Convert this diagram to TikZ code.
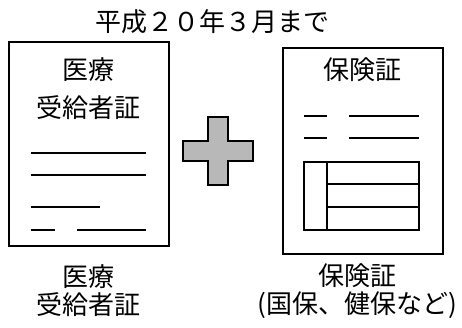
\documentclass[tikz,border=0pt]{standalone}
\usepackage{fontspec}
\setmainfont{Noto Sans CJK JP}
\usepackage{tikz}
\usetikzlibrary{positioning}

\begin{document}
\begin{tikzpicture}[x=1pt, y=-1pt, line width=1.4pt,
        card/.style={rectangle, draw, line width=1.5pt, anchor=north west},
        label/.style={inner sep=0pt, align=center, font=\fontsize{26}{28}\selectfont},
        rule/.style={line width=1.4pt},
        plusmark/.style={draw, line width=1.5pt, fill=black!28}]
        \useasboundingbox (0,0) rectangle (462,327);

        \node[label] (title) at (212,22) {平成２０年３月まで};

        \node[card, minimum width=160pt, minimum height=204pt] (iryo) at (8,41) {};
        \node[label, font=\fontsize{26}{38}\selectfont] (iryoname) at (88,89) {医療\\受給者証};
        \draw[rule] (31,153) -- (146,153);
        \draw[rule] (31,175) -- (146,175);
        \draw[rule] (31,207) -- (100,207);
        \draw[rule] (31,230) -- (55,230);
        \draw[rule] (77,230) -- (146,230);

        \draw[plusmark] (208,117) -- (228,117) -- (228,141) -- (253,141) -- (253,161) -- (228,161)
            -- (228,185) -- (208,185) -- (208,161) -- (183,161) -- (183,141) -- (208,141) -- cycle;

        \node[card, minimum width=160pt, minimum height=206pt] (hoken) at (282,47) {};
        \node[label] (hokenname) at (362,70) {保険証};
        \draw[rule] (304,116) -- (327,116);
        \draw[rule] (349,116) -- (419,116);
        \draw[rule] (304,138) -- (327,138);
        \draw[rule] (349,138) -- (419,138);
        \draw[rule] (304,162) rectangle (419,230);
        \draw[rule] (327,162) -- (327,230);
        \draw[rule] (327,184) -- (419,184);
        \draw[rule] (327,207) -- (419,207);

        \node[label] (iryocap) at (88,291) {医療\\受給者証};
        \node[label] (hokencap) at (357,291) {保険証\\(国保、健保など)};
    \end{tikzpicture}
\end{document}
